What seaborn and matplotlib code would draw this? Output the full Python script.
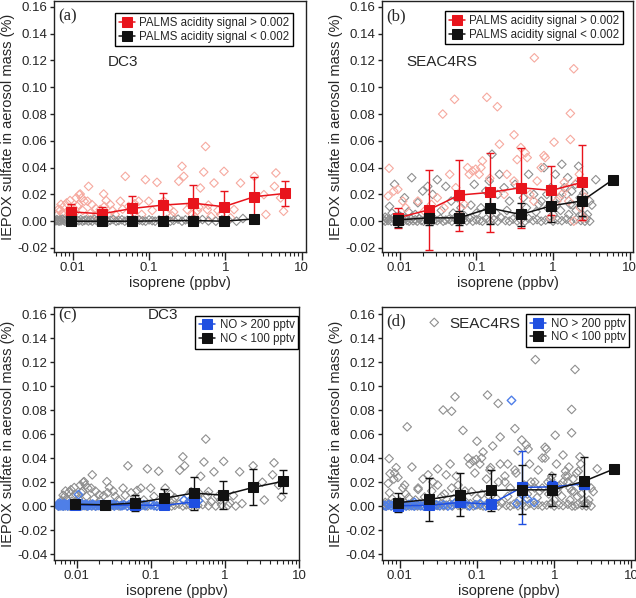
import numpy as np
import matplotlib
matplotlib.use("Agg")
import matplotlib.pyplot as plt
import seaborn as sns

# ---- binned means (isoprene bins) ----
bin_x = [0.0095, 0.024, 0.06, 0.15, 0.38, 0.95, 2.4, 6.0]

# (a) DC3, acidity split
a_hi_y = [0.0070, 0.0055, 0.0095, 0.0120, 0.0135, 0.0108, 0.0183, 0.0207]
a_hi_err = [0.0058, 0.0050, 0.0090, 0.0092, 0.0137, 0.0120, 0.0145, 0.0091]
a_lo_y = [0.0, 0.0, 0.0, 0.0003, 0.0005, 0.0, 0.0017]
a_lo_err = [0.0008, 0.0006, 0.0006, 0.0008, 0.0008, 0.0006, 0.0008]

# (b) SEAC4RS, acidity split
b_hi_y = [0.0025, 0.0085, 0.0195, 0.0215, 0.0250, 0.0230, 0.0290]
b_hi_err = [0.0075, 0.0300, 0.0265, 0.0295, 0.0300, 0.0185, 0.0280]
b_lo_y = [0.0010, 0.0025, 0.0025, 0.0098, 0.0050, 0.0115, 0.0152, 0.0310]
b_lo_err = [0.0050, 0.0055, 0.0050, 0.0120, 0.0085, 0.0120, 0.0110, 0.0]

# (c) DC3, NO split
c_lo_y = [0.0015, 0.0010, 0.0025, 0.0065, 0.0108, 0.0090, 0.0155, 0.0205]
c_lo_err = [0.0035, 0.0020, 0.0065, 0.0080, 0.0138, 0.0118, 0.0150, 0.0093]
c_hi_y = [0.0008, 0.0007, 0.0008, 0.0005, 0.0035]
c_hi_err = [0.0010, 0.0008, 0.0010, 0.0010, 0.0020]

# (d) SEAC4RS, NO split
d_lo_y = [0.0028, 0.0055, 0.0095, 0.0130, 0.0135, 0.0135, 0.0205, 0.0310]
d_lo_err = [0.0080, 0.0180, 0.0180, 0.0170, 0.0205, 0.0135, 0.0205, 0.0]
d_hi_y = [0.0003, 0.0005, 0.0030, 0.0015, 0.0155, 0.0160, 0.0185]
d_hi_err = [0.0020, 0.0020, 0.0030, 0.0020, 0.0305, 0.0050, 0.0040]

# ---- individual samples ----
dc3_acid_x = [0.0068, 0.0078, 0.0083, 0.0092, 0.0111, 0.0125, 0.0075, 0.0088, 0.0097, 0.0119,
              0.0141, 0.0161, 0.0122, 0.0131, 0.0156, 0.0178, 0.0229, 0.0254, 0.0274, 0.031,
              0.036, 0.042, 0.0488, 0.054, 0.063, 0.073, 0.0895, 0.099, 0.127, 0.156,
              0.182, 0.21, 0.245, 0.27, 0.285, 0.316, 0.37, 0.43, 0.47, 0.52,
              0.55, 0.58, 0.71, 0.87, 0.96, 1.17, 1.3, 1.58, 2.4, 3.2,
              3.4, 4.4, 4.6, 5.3, 5.8,
              0.0062, 0.0065, 0.007, 0.0072, 0.0085, 0.0105, 0.0115, 0.0135, 0.017, 0.02,
              0.0205, 0.026, 0.033, 0.045, 0.065, 0.08, 0.11, 0.2, 0.35, 0.4,
              0.45, 0.6, 0.65, 0.8]
dc3_acid_y = [0.0079, 0.0117, 0.0136, 0.0154, 0.0174, 0.0203, 0.0050, 0.0074, 0.0094, 0.0124,
              0.0149, 0.0260, 0.0198, 0.0174, 0.0149, 0.0124, 0.0087, 0.0203, 0.0154, 0.0124,
              0.0050, 0.0149, 0.0335, 0.0110, 0.0062, 0.0149, 0.0310, 0.0149, 0.0290, 0.0149,
              0.0099, 0.0069, 0.0298, 0.0410, 0.0335, 0.0087, 0.0050, 0.0079, 0.0248, 0.0367,
              0.0558, 0.0087, 0.0285, 0.0050, 0.0372, 0.0025, 0.0087, 0.0285, 0.0335, 0.0198,
              0.0050, 0.0260, 0.0360, 0.0174, 0.0074,
              0.0045, 0.0090, 0.0125, 0.0060, 0.0040, 0.0060, 0.0110, 0.0080, 0.0060, 0.0095,
              0.0045, 0.0110, 0.0080, 0.0090, 0.0130, 0.0050, 0.0080, 0.0040, 0.0120, 0.0030,
              0.0105, 0.0120, 0.0035, 0.0080]

dc3_band_x = [0.0056, 0.0058, 0.006, 0.0062, 0.0064, 0.0066, 0.0068, 0.007, 0.0073, 0.0076,
              0.0079, 0.0082, 0.0086, 0.009, 0.0094, 0.0098, 0.0103, 0.0108, 0.0114, 0.012,
              0.0127, 0.0134, 0.0142, 0.015, 0.016, 0.017, 0.018, 0.0192, 0.0205, 0.022,
              0.0235, 0.025, 0.027, 0.029, 0.031, 0.034, 0.037, 0.04, 0.044, 0.048,
              0.052, 0.057, 0.062, 0.068, 0.075, 0.082, 0.09, 0.1, 0.11, 0.12,
              0.135, 0.15, 0.17, 0.19, 0.21, 0.24, 0.27, 0.3, 0.34, 0.38,
              0.43, 0.5, 0.6, 0.75, 0.9, 1.1, 1.4, 1.7]
dc3_band_y = [0.0, 0.0008, 0.0003, 0.0012, 0.0005, 0.0, 0.0010, 0.0002, 0.0015, 0.0006,
              0.0, 0.0011, 0.0004, 0.0, 0.0009, 0.0002, 0.0013, 0.0, 0.0007, 0.0003,
              0.0012, 0.0, 0.0006, 0.0010, 0.0001, 0.0008, 0.0, 0.0014, 0.0004, 0.0,
              0.0009, 0.0002, 0.0011, 0.0, 0.0006, 0.0013, 0.0, 0.0005, 0.0010, 0.0,
              0.0007, 0.0002, 0.0012, 0.0, 0.0008, 0.0003, 0.0, 0.0010, 0.0004, 0.0,
              0.0009, 0.0001, 0.0012, 0.0, 0.0006, 0.0015, 0.0, 0.0010, 0.0003, 0.0018,
              0.0005, 0.0012, 0.0002, 0.0, 0.0010, 0.0005, 0.0, 0.0020]

dc3_no_x = [0.0055, 0.0057, 0.0059, 0.0061, 0.0063, 0.0065, 0.0067, 0.0069, 0.0072, 0.0075,
            0.0078, 0.0081, 0.0085, 0.0089, 0.0093, 0.0097, 0.0102, 0.0107, 0.0113, 0.0119,
            0.0126, 0.0133, 0.014, 0.0148, 0.0157, 0.0167, 0.0178, 0.019, 0.0203, 0.0218,
            0.0234, 0.025, 0.0268, 0.029, 0.032, 0.035, 0.039, 0.043, 0.048, 0.054,
            0.06, 0.067, 0.075, 0.085, 0.1, 0.12, 0.14, 0.16, 0.28, 0.33, 0.38, 0.44, 0.0105,
            0.0056, 0.006, 0.0064, 0.0068, 0.0074, 0.008, 0.0087, 0.0095, 0.0116, 0.0137,
            0.0162, 0.0196, 0.0226, 0.0275, 0.031, 0.041, 0.051, 0.064, 0.08, 0.11]
dc3_no_y = [0.0005, 0.0, 0.0012, 0.0003, 0.0008, 0.0, 0.0014, 0.0004, 0.0009, 0.0,
            0.0016, 0.0006, 0.0002, 0.0011, 0.0, 0.0007, 0.0013, 0.0003, 0.0, 0.0010,
            0.0005, 0.0015, 0.0, 0.0008, 0.0003, 0.0012, 0.0, 0.0006, 0.0010, 0.0002,
            0.0, 0.0009, 0.0004, 0.0012, 0.0, 0.0007, 0.0002, 0.0010, 0.0, 0.0005,
            0.0012, 0.0, 0.0006, 0.0003, 0.0010, 0.0, 0.0005, 0.0008, 0.0050, 0.0040, 0.0055, 0.0045, 0.0095,
            0.0018, 0.0022, 0.0009, 0.0020, 0.0006, 0.0019, 0.0004, 0.0017, 0.0021, 0.0008,
            0.0016, 0.0005, 0.0014, 0.0003, 0.0015, 0.0004, 0.0013, 0.0002, 0.0012, 0.0004]

sea_acid_x = [0.0073, 0.0071, 0.0084, 0.0095, 0.011, 0.012, 0.0173, 0.021, 0.026, 0.031,
              0.0365, 0.038, 0.052, 0.054, 0.07, 0.077, 0.081, 0.089, 0.098, 0.115,
              0.109, 0.137, 0.188, 0.2, 0.23, 0.31, 0.34, 0.38, 0.435, 0.46,
              0.57, 0.62, 0.76, 0.79, 1.03, 0.93, 1.4, 1.68, 1.68, 1.86,
              1.6, 1.86, 2.05, 2.25, 2.5, 1.12, 0.56, 0.31, 0.25,
              1.3, 1.5, 2.2, 2.6, 0.9, 0.7, 0.5, 0.15, 0.12, 0.06, 0.045]
sea_acid_y = [0.0395, 0.0188, 0.0225, 0.0238, 0.0150, 0.0100, 0.0150, 0.0075, 0.0125, 0.0175,
              0.0800, 0.0100, 0.0910, 0.0250, 0.0125, 0.0400, 0.0350, 0.0375, 0.0388, 0.0400,
              0.0350, 0.0925, 0.0855, 0.0575, 0.0200, 0.0645, 0.0460, 0.0550, 0.0510, 0.0475,
              0.1220, 0.0300, 0.0490, 0.0475, 0.0590, 0.0025, 0.0290, 0.0805, 0.0610, 0.1138,
              0.0150, 0.0, 0.0290, 0.0100, 0.0025, 0.0150, 0.0150, 0.0300, 0.0350,
              0.0200, 0.0250, 0.0350, 0.0180, 0.0220, 0.0400, 0.0200, 0.0320, 0.0450, 0.0050, 0.0350]

sea_low_x = [0.0086, 0.0074, 0.0116, 0.0144, 0.0173, 0.02, 0.0233, 0.027, 0.031, 0.04,
             0.047, 0.057, 0.063, 0.094, 0.115, 0.133, 0.147, 0.16, 0.19, 0.2,
             0.23, 0.27, 0.32, 0.41, 0.48, 0.56, 0.65, 0.76, 0.83, 0.93,
             1.07, 1.2, 1.3, 1.4, 1.5, 1.55, 1.68, 1.75, 1.95, 2.15,
             2.25, 2.5, 2.8, 3.0, 3.6, 2.6,
             0.0065, 0.008, 0.01, 0.013, 0.016, 0.025, 0.035, 0.05, 0.07, 0.085,
             0.1, 0.14, 0.18, 0.25, 0.35, 0.45, 0.6, 0.7, 0.85, 1.0,
             1.1, 1.25, 1.6, 1.8, 2.0, 2.4, 3.2]
sea_low_y = [0.0275, 0.0110, 0.0175, 0.0325, 0.0138, 0.0225, 0.0260, 0.0200, 0.0310, 0.0260,
             0.0150, 0.0175, 0.0100, 0.0275, 0.0100, 0.0225, 0.0300, 0.0500, 0.0200, 0.0350,
             0.0250, 0.0150, 0.0275, 0.0175, 0.0350, 0.0200, 0.0125, 0.0400, 0.0200, 0.0250,
             0.0350, 0.0175, 0.0425, 0.0250, 0.0200, 0.0325, 0.0125, 0.0225, 0.0275, 0.0410,
             0.0175, 0.0210, 0.0050, 0.0150, 0.0310, 0.0,
             0.0030, 0.0060, 0.0040, 0.0070, 0.0050, 0.0040, 0.0080, 0.0060, 0.0040, 0.0120,
             0.0060, 0.0090, 0.0060, 0.0080, 0.0050, 0.0100, 0.0070, 0.0150, 0.0100, 0.0050,
             0.0120, 0.0080, 0.0050, 0.0120, 0.0080, 0.0050, 0.0120]

sea_band_x = [0.0062, 0.0065, 0.0068, 0.0071, 0.0074, 0.0078, 0.0082, 0.0086, 0.009, 0.0095,
              0.01, 0.0106, 0.0112, 0.0118, 0.0125, 0.0133, 0.0141, 0.015, 0.016, 0.017,
              0.018, 0.0192, 0.0205, 0.022, 0.0235, 0.025, 0.027, 0.029, 0.031, 0.034,
              0.037, 0.04, 0.044, 0.048, 0.052, 0.057, 0.062, 0.068, 0.075, 0.082,
              0.09, 0.1, 0.11, 0.12, 0.135, 0.15, 0.17, 0.19, 0.21, 0.24,
              0.27, 0.3, 0.34, 0.38, 0.43, 0.48, 0.55, 0.62, 0.7, 0.8,
              0.9, 1.0, 1.15, 1.3, 1.5, 1.7, 2.0, 2.3, 2.7, 3.0]
sea_band_y = [0.0010, 0.0, 0.0020, 0.0005, 0.0015, 0.0, 0.0025, 0.0008, 0.0, 0.0018,
              0.0003, 0.0012, 0.0, 0.0022, 0.0006, 0.0, 0.0015, 0.0003, 0.0010, 0.0,
              0.0020, 0.0005, 0.0, 0.0014, 0.0002, 0.0024, 0.0, 0.0010, 0.0004, 0.0018,
              0.0, 0.0008, 0.0015, 0.0, 0.0022, 0.0005, 0.0, 0.0012, 0.0003, 0.0020,
              0.0, 0.0010, 0.0006, 0.0, 0.0018, 0.0003, 0.0012, 0.0, 0.0025, 0.0005,
              0.0, 0.0015, 0.0002, 0.0010, 0.0, 0.0020, 0.0005, 0.0012, 0.0, 0.0008,
              0.0018, 0.0, 0.0010, 0.0004, 0.0015, 0.0, 0.0012, 0.0005, 0.0020, 0.0]

sea_no_x = [0.0063, 0.0067, 0.0072, 0.0077, 0.0083, 0.0089, 0.0096, 0.0104, 0.0112, 0.0121,
            0.0131, 0.0142, 0.0155, 0.017, 0.0186, 0.0204, 0.0224, 0.0246, 0.027, 0.03,
            0.033, 0.037, 0.042, 0.047, 0.053, 0.06, 0.07, 0.08, 0.095, 0.11,
            0.13, 0.15, 0.28, 0.33, 0.38, 0.45, 0.55, 0.0155]
sea_no_y = [0.0005, 0.0, 0.0012, 0.0003, 0.0008, 0.0, 0.0010, 0.0002, 0.0006, 0.0,
            0.0012, 0.0004, 0.0, 0.0009, 0.0002, 0.0, 0.0010, 0.0004, 0.0, 0.0008,
            0.0002, 0.0010, 0.0, 0.0006, 0.0030, 0.0050, 0.0020, 0.0, 0.0010, 0.0020,
            0.0, 0.0015, 0.0880, 0.0020, 0.0100, 0.0060, 0.0030, 0.0030]

sea_extra_x = [0.028, 0.0125, 0.066, 0.047, 0.1, 0.0075, 0.009]
sea_extra_y = [0.1530, 0.0660, 0.0630, 0.0790, 0.0540, 0.0270, 0.0320]

# ---- colours ----
red = "#e8141c"
red_pt = "#f6a99f"
gray_pt = "#8f8f8f"
blue = "#1f4fe0"
blue_pt = "#4f7fe8"
black = "#111111"

sns.set_theme(style="ticks")
plt.rcParams["font.family"] = ["Liberation Sans", "DejaVu Sans"]
plt.rcParams["axes.linewidth"] = 1.0

fig = plt.figure(figsize=(6.36, 5.98), dpi=100)
ax_a = fig.add_axes([0.0849, 0.5786, 0.3962, 0.419])
ax_b = fig.add_axes([0.6006, 0.5786, 0.3947, 0.419])
ax_c = fig.add_axes([0.0849, 0.0635, 0.3852, 0.4230])
ax_d = fig.add_axes([0.6006, 0.0635, 0.3978, 0.4230])


def points(ax, x, y, color, lw=0.8):
    sns.scatterplot(x=x, y=y, ax=ax, marker="D", s=19, color=color,
                    facecolor="none", edgecolor=color, linewidth=lw, zorder=2)


def binned(ax, y, err, color, label):
    x = bin_x[:len(y)]
    ax.errorbar(x, y, yerr=err, fmt="none", ecolor=color,
                elinewidth=1.0, capsize=3.2, capthick=1.0, zorder=4)
    sns.lineplot(x=x, y=y, ax=ax, color=color, marker="s", markersize=6.5,
                 markeredgecolor=color, linewidth=1.1, label=label, zorder=5)


def style(ax, xlim, ylim, letter, campaign, cpos, leg_anchor):
    ax.set_xscale("log")
    ax.set_xlim(*xlim)
    ax.set_yticks(np.arange(-0.04, 0.161, 0.02))
    ax.set_ylim(*ylim)
    ax.yaxis.set_major_formatter(plt.FuncFormatter(lambda v, _: "{:.2f}".format(v + 0.0)))
    ax.set_xticks([0.01, 0.1, 1, 10])
    ax.xaxis.set_major_formatter(plt.FuncFormatter(lambda v, _: "{:g}".format(v)))
    ax.tick_params(axis="x", which="major", direction="out", length=5.5, width=1,
                   pad=2, labelsize=9.5, color="#222222")
    ax.tick_params(axis="y", which="major", direction="out", length=3, width=1,
                   pad=1.5, labelsize=9.5, color="#222222")
    ax.tick_params(axis="x", which="minor", direction="out", length=3, width=0.8, color="#222222")
    for s in ax.spines.values():
        s.set_visible(True)
        s.set_color("#222222")
    ax.set_xlabel("isoprene (ppbv)", fontsize=10.5, labelpad=1)
    ax.set_ylabel("IEPOX sulfate in aerosol mass (%)", fontsize=10.5, labelpad=2)
    ax.text(0.016, cpos[3], letter, transform=ax.transAxes, fontsize=12,
            family="Liberation Serif", va="center", ha="left")
    ax.text(cpos[0], cpos[1], campaign, transform=ax.transAxes, fontsize=11,
            va="center", ha="left")
    ax.legend(loc="upper right", bbox_to_anchor=leg_anchor, fontsize=8.3, frameon=True,
              fancybox=False, edgecolor="black", framealpha=1, handlelength=1.4,
              handletextpad=0.4, borderpad=0.3, labelspacing=0.15, borderaxespad=0)
    ax.get_legend().get_frame().set_linewidth(1.0)


# (a)
points(ax_a, dc3_acid_x, dc3_acid_y, red_pt)
points(ax_a, dc3_band_x, dc3_band_y, gray_pt)
binned(ax_a, a_hi_y, a_hi_err, red, "PALMS acidity signal > 0.002")
binned(ax_a, a_lo_y, a_lo_err, black, "PALMS acidity signal < 0.002")
style(ax_a, (0.00567, 11.4), (-0.023, 0.1641), "(a)", "DC3", (0.214, 0.758, 0, 0.94),
      (0.948, 0.952))

# (b)
points(ax_b, sea_band_x, sea_band_y, gray_pt)
points(ax_b, sea_low_x, sea_low_y, gray_pt)
points(ax_b, sea_acid_x, sea_acid_y, red_pt)
binned(ax_b, b_hi_y, b_hi_err, red, "PALMS acidity signal > 0.002")
binned(ax_b, b_lo_y, b_lo_err, black, "PALMS acidity signal < 0.002")
style(ax_b, (0.0059, 11.0), (-0.023, 0.1641), "(b)", "SEAC4RS", (0.096, 0.758, 0, 0.94),
      (0.96, 0.96))

# (c)
points(ax_c, dc3_acid_x, dc3_acid_y, gray_pt)
points(ax_c, dc3_band_x, dc3_band_y, gray_pt)
points(ax_c, dc3_no_x, dc3_no_y, blue_pt, lw=1.0)
binned(ax_c, c_hi_y, c_hi_err, blue, "NO > 200 pptv")
binned(ax_c, c_lo_y, c_lo_err, black, "NO < 100 pptv")
style(ax_c, (0.0049, 9.6), (-0.045, 0.1658), "(c)", "DC3", (0.384, 0.968, 0, 0.968),
      (0.996, 0.965))

# (d)
points(ax_d, sea_band_x, sea_band_y, gray_pt)
points(ax_d, sea_low_x, sea_low_y, gray_pt)
points(ax_d, sea_acid_x, sea_acid_y, gray_pt)
points(ax_d, sea_extra_x, sea_extra_y, gray_pt)
points(ax_d, sea_no_x, sea_no_y, blue_pt, lw=1.0)
binned(ax_d, d_hi_y, d_hi_err, blue, "NO > 200 pptv")
binned(ax_d, d_lo_y, d_lo_err, black, "NO < 100 pptv")
style(ax_d, (0.0059, 11.1), (-0.045, 0.1658), "(d)", "SEAC4RS", (0.268, 0.933, 0, 0.945),
      (0.976, 0.972))

fig.savefig("out.png", dpi=100)
